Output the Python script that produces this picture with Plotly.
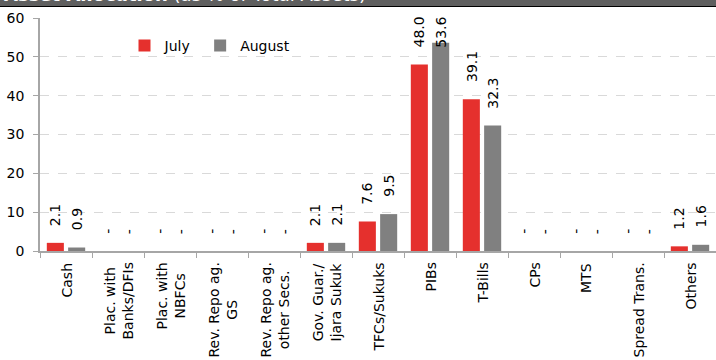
import plotly.graph_objects as go

# Asset allocation by instrument, % of total assets
categories = [
    "Cash",
    "Plac. with<br>Banks/DFIs",
    "Plac. with<br>NBFCs",
    "Rev. Repo ag.<br>GS",
    "Rev. Repo ag.<br>other Secs.",
    "Gov. Guar./<br>Ijara Sukuk",
    "TFCs/Sukuks",
    "PIBs",
    "T-Bills",
    "CPs",
    "MTS",
    "Spread Trans.",
    "Others",
]
july = [2.1, 0, 0, 0, 0, 2.1, 7.6, 48.0, 39.1, 0, 0, 0, 1.2]
august = [0.9, 0, 0, 0, 0, 2.1, 9.5, 53.6, 32.3, 0, 0, 0, 1.6]
y_ticks = [0, 10, 20, 30, 40, 50, 60]

FONT = "DejaVu Sans"
RED = "#e5302d"
GREY = "#808080"

W, H = 716, 360
M = dict(l=40, r=0, t=18, b=109)
BARGAP = 0.18
# half a bar slot in pixels: distance of each bar's centre from its category centre
slot_half = (W - M["l"] - M["r"]) / len(categories) * (1 - BARGAP) / 4
LABEL_CEIL = 48  # value labels are kept inside the plot area


def label(v):
    # zero holdings are shown as a dash
    return f"{v:.1f}" if v else "-"


fig = go.Figure()
series = [("July", july, RED, -1), ("August", august, GREY, 1)]
for name, vals, col, side in series:
    fig.add_trace(go.Bar(
        x=categories, y=vals, name=name, marker_color=col,
        marker_line_width=0, hoverinfo="skip",
    ))
    # rotated value labels above each bar
    for c, v in zip(categories, vals):
        fig.add_annotation(
            x=c, y=min(v, LABEL_CEIL), xref="x", yref="y",
            xshift=side * slot_half, yanchor="bottom", yshift=15,
            text=label(v), textangle=-90, showarrow=False,
            font=dict(family=FONT, size=14, color="#000000"),
        )

# category names, rotated and centred under each group
for c in categories:
    fig.add_annotation(
        x=c, y=0, xref="x", yref="paper", yanchor="top", yshift=-10,
        text=c, textangle=-90, showarrow=False, align="center",
        font=dict(family=FONT, size=14, color="#000000"),
    )

# header band
fig.add_shape(type="rect", xref="paper", yref="paper",
              x0=-40 / 676 - 0.01, x1=1.01, y0=1 + 11.5 / 233, y1=1.3,
              fillcolor="#5f5f5f", line=dict(color="#000000", width=1.2),
              layer="below")
fig.add_annotation(
    x=-38 / 676, y=1, xref="paper", yref="paper", xanchor="left",
    yanchor="bottom", yshift=11,
    text="<b>Asset Allocation</b> (as % of Total Assets)",
    showarrow=False, font=dict(family=FONT, size=18, color="#ffffff"),
)

fig.data[0].name = "July&nbsp;"

fig.update_layout(
    width=W, height=H, margin=M,
    paper_bgcolor="#ffffff", plot_bgcolor="#ffffff",
    barmode="group", bargap=BARGAP, bargroupgap=0.2,
    font=dict(family=FONT, size=14, color="#000000"),
    showlegend=True,
    legend=dict(orientation="h", x=0.125, y=0.88, xanchor="left",
                yanchor="middle", bgcolor="rgba(0,0,0,0)",
                font=dict(family=FONT, size=14)),
    xaxis=dict(
        type="category", showticklabels=False, showgrid=False,
        showline=True, linecolor="#a6a6a6", linewidth=1.5,
        ticks="outside", tickson="boundaries", ticklen=5,
        tickcolor="#a6a6a6", tickwidth=1, zeroline=False,
    ),
    yaxis=dict(
        range=[0, 60], tickvals=y_ticks, showgrid=True,
        gridcolor="#d9d9d9", griddash="dash", gridwidth=1,
        showline=True, linecolor="#a6a6a6", linewidth=1.5,
        ticks="outside", ticklen=5, tickcolor="#a6a6a6",
        ticklabelstandoff=6, zeroline=False,
        tickfont=dict(family=FONT, size=14, color="#000000"),
    ),
)

fig.write_html("out.html")
